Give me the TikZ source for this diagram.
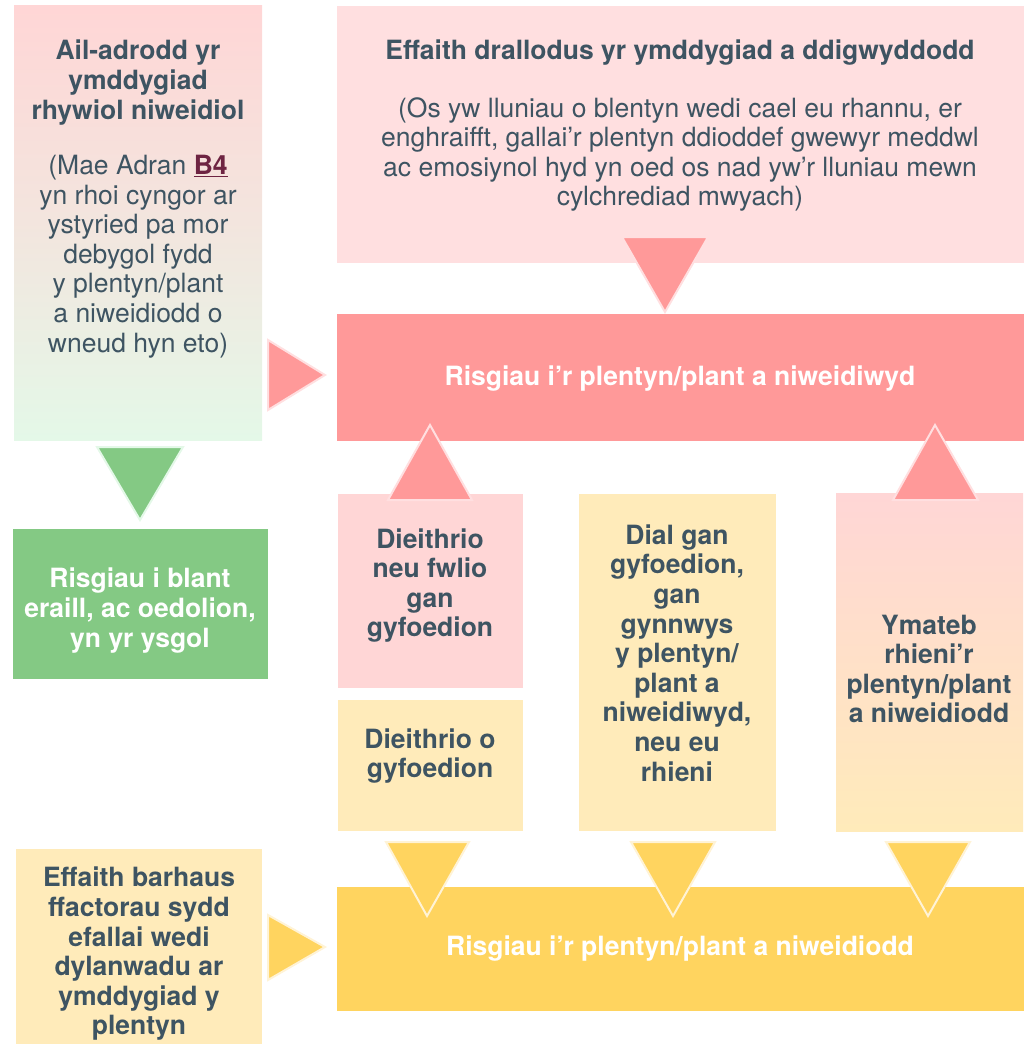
\documentclass[tikz,border=0pt]{standalone}
\usepackage{fontspec}
\setmainfont{TeX Gyre Heros}
\usetikzlibrary{calc}
\definecolor{txt}{HTML}{3E5462}
\definecolor{pinkA}{HTML}{FFD6D6}
\definecolor{pinkB}{HTML}{FFDFE0}
\definecolor{salmon}{HTML}{FF9999}
\definecolor{greenA}{HTML}{84C984}
\definecolor{greenL}{HTML}{E4F8E8}
\definecolor{yelL}{HTML}{FFEBBA}
\definecolor{yel}{HTML}{FFD45F}
\definecolor{maroon}{HTML}{6E2442}
\tikzset{
  box/.style={rectangle, draw=none, inner sep=0pt},
  lbl/.style={align=center, text=txt, font=\fontsize{26.5}{29.6}\selectfont, inner sep=0pt},
  blbl/.style={lbl, font=\fontsize{26.5}{29.6}\selectfont\bfseries},
  wlbl/.style={blbl, text=white},
  tri/.style={line width=2pt, line join=miter},
  tripink/.style={tri, fill=salmon, draw=pinkB},
  trigreen/.style={tri, fill=greenA, draw=greenL},
  triyel/.style={tri, fill=yel, draw=yelL!60!white},
}
\begin{document}
\begin{tikzpicture}[x=1pt, y=-1pt]
\useasboundingbox (0,0) rectangle (1032,1046);
% boxes
\node[box, minimum width=248pt, minimum height=434pt, top color=pinkA, bottom color=greenL, middle color=pinkA!55!greenL] (A) at (138,223) {};
\node[box, fill=pinkB, minimum width=687pt, minimum height=257pt] (B) at (680.5,134.5) {};
\node[box, fill=salmon, minimum width=687pt, minimum height=127pt] (C) at (680.5,377.5) {};
\node[box, fill=greenA, minimum width=255pt, minimum height=150pt] (G) at (140.5,604) {};
\node[box, fill=pinkA, minimum width=185pt, minimum height=194pt] (D) at (430.5,591) {};
\node[box, fill=yelL, minimum width=185pt, minimum height=131pt] (E) at (430.5,765.5) {};
\node[box, fill=yelL, minimum width=197pt, minimum height=337pt] (F) at (677.5,662.5) {};
\node[box, top color=pinkA, bottom color=yelL, minimum width=187pt, minimum height=338pt] (R) at (929.5,662) {};
\node[box, fill=yel, minimum width=687pt, minimum height=124pt] (H) at (680.5,949) {};
\node[box, fill=yelL, minimum width=246pt, minimum height=195pt] (I) at (139,946.5) {};
% triangles (arrows)
\draw[tripink] (622,237) -- (708,237) -- (665,312) -- cycle;
\draw[tripink] (268,340) -- (325,375) -- (268,410) -- cycle;
\draw[tripink] (388,500) -- (472,500) -- (430,425) -- cycle;
\draw[tripink] (893,500) -- (978,500) -- (935,425) -- cycle;
\draw[trigreen] (97,447) -- (183,447) -- (140,520) -- cycle;
\draw[triyel] (386,842) -- (469,842) -- (427,916) -- cycle;
\draw[triyel] (631,842) -- (715,842) -- (673,916) -- cycle;
\draw[triyel] (886,842) -- (970,842) -- (928,916) -- cycle;
\draw[triyel] (268,915) -- (325,947) -- (268,980) -- cycle;
% texts
\node[blbl] (At) at (138,82.5) {Ail-adrodd yr\\ymddygiad\\rhywiol niweidiol};
\node[lbl] (Ab) at (138,256.5) {(Mae Adran {\bfseries\color{maroon}\underline{B4}}\\yn rhoi cyngor ar\\ystyried pa mor\\debygol fydd\\y plentyn/plant\\a niweidiodd o\\wneud hyn eto)};
\node[blbl] (Bt) at (680,52.5) {Effaith drallodus yr ymddygiad a ddigwyddodd};
\node[lbl] (Bb) at (680,154.5) {(Os yw lluniau o blentyn wedi cael eu rhannu, er\\enghraifft, gallai’r plentyn ddioddef gwewyr meddwl\\ac emosiynol hyd yn oed os nad yw’r lluniau mewn\\cylchrediad mwyach)};
\node[wlbl] (Ct) at (680,378.5) {Risgiau i’r plentyn/plant a niweidiwyd};
\node[wlbl] (Gt) at (140,610.5) {Risgiau i blant\\eraill, ac oedolion,\\yn yr ysgol};
\node[blbl] (Dt) at (430,585.5) {Dieithrio\\neu fwlio\\gan\\gyfoedion};
\node[blbl] (Et) at (430,756) {Dieithrio o\\gyfoedion};
\node[blbl] (Ft) at (677,653) {Dial gan\\gyfoedion,\\gan\\gynnwys\\y plentyn/\\plant a\\niweidiwyd,\\neu eu\\rhieni};
\node[blbl] (Rt) at (929,669) {Ymateb\\rhieni’r\\plentyn/plant\\a niweidiodd};
\node[wlbl] (Ht) at (680,948.5) {Risgiau i’r plentyn/plant a niweidiodd};
\node[blbl] (It) at (139,954) {Effaith barhaus\\ffactorau sydd\\efallai wedi\\dylanwadu ar\\ymddygiad y\\plentyn};
\end{tikzpicture}
\end{document}
